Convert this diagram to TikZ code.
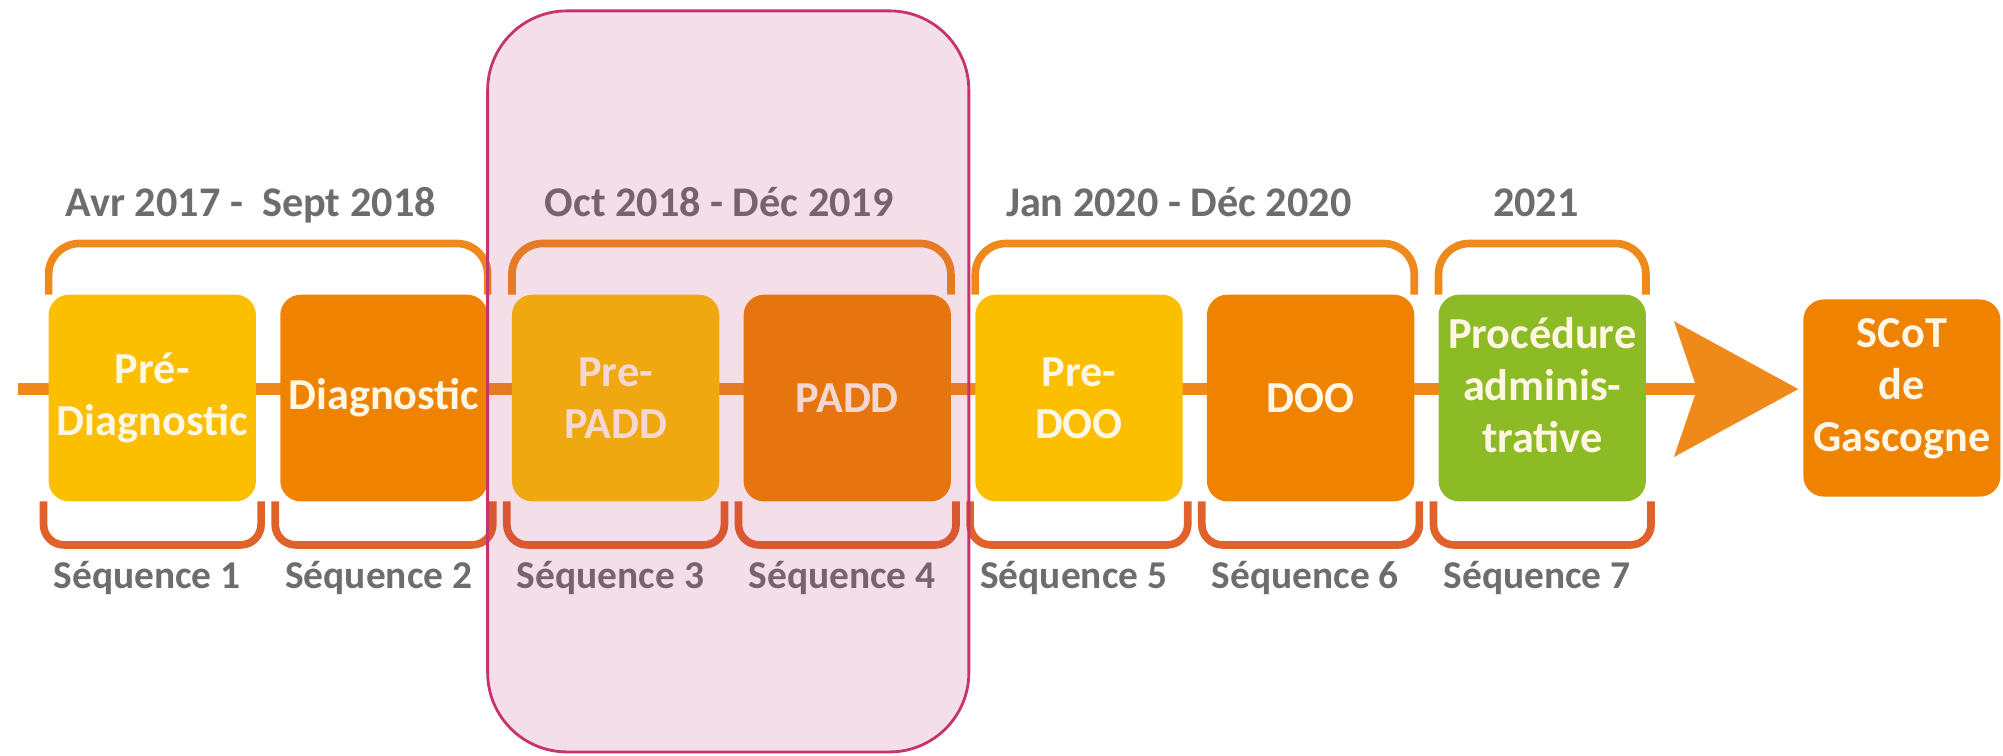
\documentclass[tikz,border=0pt]{standalone}
\usepackage{fontspec}
\setmainfont{Carlito}
\usetikzlibrary{positioning,arrows.meta,backgrounds}

\definecolor{preyellow}{HTML}{FBBF00}
\definecolor{stageorange}{HTML}{EF8300}
\definecolor{procgreen}{HTML}{8DBB25}
\definecolor{lineorange}{HTML}{EF8A1A}
\definecolor{braceorange}{HTML}{EE8A1C}
\definecolor{seqred}{HTML}{E0612A}
\definecolor{labelgray}{HTML}{6D6D6D}
\definecolor{boxtext}{HTML}{FFF6E4}
\definecolor{focuspink}{RGB}{182,42,108}
\definecolor{focusborder}{HTML}{C7336C}

\tikzset{
  stage/.style={rounded corners=8pt, minimum width=81pt, minimum height=80.75pt,
    inner sep=2pt, outer sep=0pt, align=center, text=boxtext,
    font=\fontsize{17.3}{20.3}\selectfont\bfseries},
  threeline/.style={text depth=10pt},
  period/.style={anchor=base, text=labelgray, font=\fontsize{16.5}{19}\selectfont\bfseries},
  seqlabel/.style={anchor=base, text=labelgray, font=\fontsize{15.4}{18}\selectfont\bfseries},
  topbrace/.style={draw=braceorange, line width=3pt, rounded corners=12pt},
  seqbrace/.style={draw=seqred, line width=3pt, rounded corners=8pt},
  timeline/.style={draw=lineorange, line width=5pt,
    -{Stealth[length=48.5pt, width=53pt, inset=9pt, line width=0.1pt]}},
  focus/.style={draw=focusborder, line width=1.1pt, fill=focuspink,
    fill opacity=0.15, rounded corners=31pt},
}

\begin{document}
\begin{tikzpicture}[x=0.5pt, y=-0.5pt]
  \useasboundingbox (0,0) rectangle (1565,590);
  % stages
  \node[stage, fill=preyellow] (prediag) at (119,311) {Pré-\\Diagnostic};
  \node[stage, fill=stageorange, right=9.5pt of prediag] (diag) {Diagnostic};
  \node[stage, fill=preyellow, right=9.5pt of diag] (prepadd) {Pre-\\PADD};
  \node[stage, fill=stageorange, right=9.5pt of prepadd] (padd) {PADD};
  \node[stage, fill=preyellow, right=9.5pt of padd] (predoo) {Pre-\\DOO};
  \node[stage, fill=stageorange, right=9.5pt of predoo] (doo) {DOO};
  \node[stage, threeline, fill=procgreen, right=9.5pt of doo] (proc) {Procédure\\adminis-\\trative};
  \node[stage, threeline, fill=stageorange, minimum width=77pt, minimum height=77pt]
    (scot) at (1486,311) {SCoT\\de\\Gascogne};

  % timeline behind the stages
  \coordinate (start) at (14,304);
  \begin{scope}[on background layer]
    \draw[timeline, shorten >=2pt] (start) -- (start -| scot.west);
  \end{scope}

  % periods
  \node[period] (avr) at (196,169.5) {Avr 2017 -~ Sept 2018};
  \node[period] (oct) at (562,169.5) {Oct 2018 - Déc 2019};
  \node[period] (jan) at (921,169.5) {Jan 2020 - Déc 2020};
  \node[period] (y2021) at (1200,169.5) {2021};
  \draw[topbrace] (prediag.north west) -- ++(0,20pt) -| (diag.north east);
  \draw[topbrace] (prepadd.north west) -- ++(0,20pt) -| (padd.north east);
  \draw[topbrace] (predoo.north west) -- ++(0,20pt) -| (doo.north east);
  \draw[topbrace] (proc.north west) -- ++(0,20pt) -| (proc.north east);

  % sequences
  \draw[seqbrace] ([xshift=-2pt]prediag.south west) -- ++(0,-17pt) -| ([xshift=2pt]prediag.south east);
  \draw[seqbrace] ([xshift=-2pt]diag.south west) -- ++(0,-17pt) -| ([xshift=2pt]diag.south east);
  \draw[seqbrace] ([xshift=-2pt]prepadd.south west) -- ++(0,-17pt) -| ([xshift=2pt]prepadd.south east);
  \draw[seqbrace] ([xshift=-2pt]padd.south west) -- ++(0,-17pt) -| ([xshift=2pt]padd.south east);
  \draw[seqbrace] ([xshift=-2pt]predoo.south west) -- ++(0,-17pt) -| ([xshift=2pt]predoo.south east);
  \draw[seqbrace] ([xshift=-2pt]doo.south west) -- ++(0,-17pt) -| ([xshift=2pt]doo.south east);
  \draw[seqbrace] ([xshift=-2pt]proc.south west) -- ++(0,-17pt) -| ([xshift=2pt]proc.south east);
  \node[seqlabel] (seq1) at ([xshift=-2pt, yshift=-34pt]prediag.south) {Séquence 1};
  \node[seqlabel] (seq2) at ([xshift=-2pt, yshift=-34pt]diag.south) {Séquence 2};
  \node[seqlabel] (seq3) at ([xshift=-2pt, yshift=-34pt]prepadd.south) {Séquence 3};
  \node[seqlabel] (seq4) at ([xshift=-2pt, yshift=-34pt]padd.south) {Séquence 4};
  \node[seqlabel] (seq5) at ([xshift=-2pt, yshift=-34pt]predoo.south) {Séquence 5};
  \node[seqlabel] (seq6) at ([xshift=-2pt, yshift=-34pt]doo.south) {Séquence 6};
  \node[seqlabel] (seq7) at ([xshift=-2pt, yshift=-34pt]proc.south) {Séquence 7};

  % highlighted phase
  \draw[focus] (381,8.5) rectangle (757,587.5);
\end{tikzpicture}
\end{document}
